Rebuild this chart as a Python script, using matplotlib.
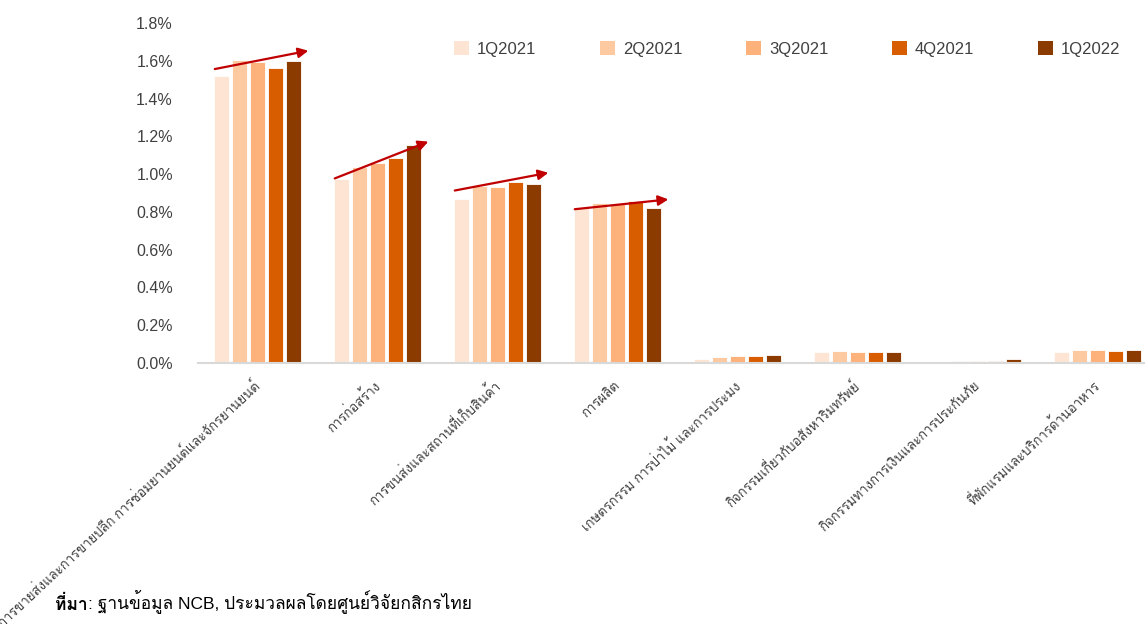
import matplotlib
matplotlib.use("Agg")
import matplotlib.pyplot as plt
from matplotlib import font_manager
from matplotlib.ft2font import FT2Font
from matplotlib.patches import Patch

# look for an installed font that can draw Thai
thai_font = None
for f in font_manager.fontManager.ttflist:
    try:
        if 0x0E01 in FT2Font(f.fname).get_charmap():
            thai_font = f.name
            break
    except Exception:
        pass

families = ['Liberation Sans']
if thai_font:
    families.append(thai_font)
families.append('DejaVu Sans')
plt.rcParams['font.family'] = families

# data (% of loans)
categories = [
    'การขายส่งและการขายปลีก การซ่อมยานยนต์และจักรยานยนต์',
    'การก่อสร้าง',
    'การขนส่งและสถานที่เก็บสินค้า',
    'การผลิต',
    'เกษตรกรรม การป่าไม้ และการประมง',
    'กิจกรรมเกี่ยวกับอสังหาริมทรัพย์',
    'กิจกรรมทางการเงินและการประกันภัย',
    'ที่พักแรมและบริการด้านอาหาร',
]
quarters = ['1Q2021', '2Q2021', '3Q2021', '4Q2021', '1Q2022']
q1_2021 = [1.52, 0.975, 0.866, 0.827, 0.023, 0.057, 0.005, 0.057]
q2_2021 = [1.605, 1.04, 0.936, 0.848, 0.032, 0.064, 0.009, 0.067]
q3_2021 = [1.595, 1.06, 0.930, 0.839, 0.035, 0.060, 0.012, 0.071]
q4_2021 = [1.56, 1.085, 0.960, 0.855, 0.037, 0.058, 0.010, 0.064]
q1_2022 = [1.60, 1.154, 0.950, 0.822, 0.040, 0.060, 0.021, 0.069]
series = [q1_2021, q2_2021, q3_2021, q4_2021, q1_2022]
colors = ['#FEE5D3', '#FDC9A0', '#FDB17B', '#D75D00', '#8B3A00']

# trend arrows on the first four groups: (start value, end value)
arrow_start = [1.556, 0.977, 0.913, 0.814]
arrow_end = [1.653, 1.172, 1.007, 0.866]

yticks = [0.0, 0.2, 0.4, 0.6, 0.8, 1.0, 1.2, 1.4, 1.6, 1.8]

fig = plt.figure(figsize=(11.45, 6.24), dpi=100)
ax = fig.add_axes([0.1729, 0.4183, 0.8384, 0.5449])

pitch = 0.15
width = 0.125
for k, (vals, col) in enumerate(zip(series, colors)):
    xs = [i + (k - 2) * pitch for i in range(len(categories))]
    ax.bar(xs, vals, width=width, color=col, edgecolor='white', linewidth=0.6, zorder=2)

for i, (s, e) in enumerate(zip(arrow_start, arrow_end)):
    ax.annotate('', xy=(i + 0.42, e), xytext=(i - 0.36, s),
                arrowprops=dict(arrowstyle='-|>', color='#C00000', lw=1.6,
                                mutation_scale=15, shrinkA=0, shrinkB=0),
                zorder=3)

ax.set_xlim(-0.5, 7.5)
ax.set_ylim(0, 1.8)
ax.set_yticks(yticks)
ax.set_yticklabels([f'{t:.1f}%' for t in yticks], fontsize=11.5, color='#404040')
ax.tick_params(axis='y', length=0, pad=18)
ax.set_xticks(range(len(categories)))
ax.set_xticklabels(categories, rotation=43, ha='right', va='center',
                   rotation_mode='anchor', fontsize=9.5, color='#404040')
ax.tick_params(axis='x', length=0, pad=15)

for side in ['left', 'right', 'top']:
    ax.spines[side].set_visible(False)
ax.spines['bottom'].set_color('#D9D9D9')
ax.spines['bottom'].set_linewidth(1.5)

handles = [Patch(facecolor=c, edgecolor='none') for c in colors]
fig.legend(handles, quarters, loc='center left', bbox_to_anchor=(0.383, 0.922),
           ncol=5, frameon=False, fontsize=12, handlelength=0.9, handleheight=0.9,
           handletextpad=0.5, columnspacing=3.8, labelcolor='#404040')

src = fig.text(0.048, 0.022, 'ที่มา', fontsize=12.5, fontweight='bold', color='black')
ax.annotate(': ฐานข้อมูล NCB, ประมวลผลโดยศูนย์วิจัยกสิกรไทย', xy=(1, 0), xycoords=src,
            va='bottom', ha='left', fontsize=12.5, color='black', annotation_clip=False)

fig.savefig('out.png', dpi=100)
